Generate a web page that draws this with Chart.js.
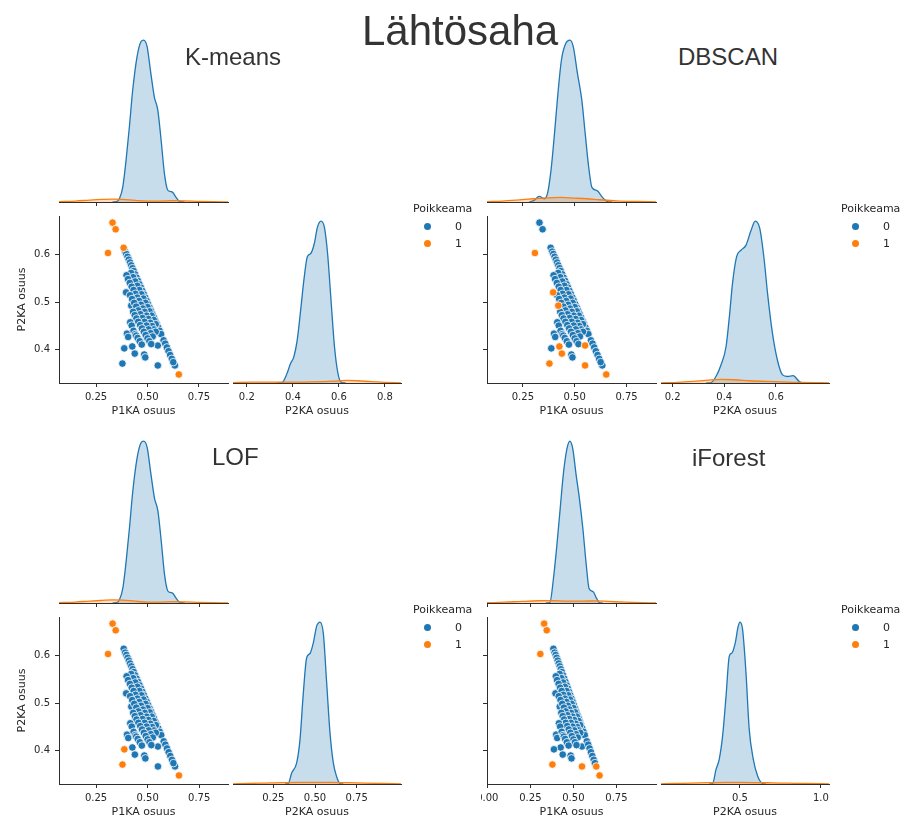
<!DOCTYPE html>
<html lang="fi">
<head>
<meta charset="utf-8">
<title>Lähtösaha – poikkeamat</title>
<script src="https://cdn.jsdelivr.net/npm/chart.js@4.4.1/dist/chart.umd.min.js"></script>
<style>
  html, body { margin: 0; padding: 0; background: #fff; }
  #page { position: relative; width: 904px; height: 824px; overflow: hidden; background: #fff; }
  .clip { position: absolute; overflow: hidden; }
  .inner { position: absolute; width: 480px; height: 430px; }
  canvas { position: absolute; display: block; }
  .heading { position: absolute; margin: 0; font-family: "Liberation Sans", Arial, sans-serif; font-weight: normal; color: #333; line-height: 1; white-space: nowrap; z-index: 5; }
  .legend { position: absolute; left: 0; top: 0; font-family: "DejaVu Sans", sans-serif; font-size: 11px; color: #262626; line-height: 1; }
  .legend .dot { position: absolute; width: 7px; height: 7px; border-radius: 50%; }
  .legend .txt { position: absolute; white-space: nowrap; }
</style>
</head>
<body>
<div id="page"></div>
<script>
// ---------------- data ----------------
const figureTitle = 'Lähtösaha';
const methodNames = ['K-means', 'DBSCAN', 'LOF', 'iForest'];
const xLabel = 'P1KA osuus';
const yLabel = 'P2KA osuus';
const legendTitle = 'Poikkeama';
const legendLabels = ['0', '1'];

// Share of P1KA and P2KA for each observation
const p1ka = [
  0.330, 0.345, 0.308, 0.384, 0.652, 0.396, 0.421, 0.426, 0.438, 0.378, 0.550, 0.550, 0.387, 0.633,
  0.391, 0.397, 0.403, 0.409, 0.415, 0.421, 0.427, 0.433, 0.440, 0.447, 0.454, 0.461, 0.468, 0.475,
  0.482, 0.489, 0.496, 0.503, 0.510, 0.517, 0.524, 0.531, 0.538, 0.545, 0.552, 0.559, 0.566, 0.578,
  0.586, 0.594, 0.602, 0.610, 0.618, 0.625,
  0.420, 0.430, 0.440, 0.450, 0.460, 0.470, 0.480, 0.490, 0.500, 0.510, 0.520, 0.530, 0.540,
  0.398, 0.405, 0.414, 0.423, 0.432, 0.441, 0.450, 0.459, 0.468, 0.477, 0.486, 0.495, 0.504, 0.513,
  0.522, 0.531, 0.540,
  0.415, 0.425, 0.435, 0.445, 0.455, 0.465, 0.475, 0.485, 0.495, 0.505, 0.515, 0.525,
  0.430, 0.438, 0.446, 0.455, 0.464, 0.473, 0.482, 0.491, 0.500, 0.509, 0.518,
  0.400, 0.406, 0.416, 0.423, 0.432, 0.440, 0.445, 0.452, 0.462, 0.472, 0.484, 0.489
];
const p2ka = [
  0.668, 0.654, 0.604, 0.615, 0.348, 0.521, 0.493, 0.407, 0.392, 0.371, 0.409, 0.367, 0.403, 0.367,
  0.607, 0.602, 0.596, 0.590, 0.584, 0.578, 0.572, 0.566, 0.559, 0.552, 0.545, 0.538, 0.531, 0.524,
  0.517, 0.510, 0.503, 0.496, 0.489, 0.482, 0.475, 0.468, 0.461, 0.454, 0.447, 0.440, 0.433, 0.420,
  0.413, 0.405, 0.397, 0.389, 0.381, 0.374,
  0.562, 0.553, 0.544, 0.535, 0.526, 0.517, 0.508, 0.499, 0.490, 0.481, 0.472, 0.463, 0.454,
  0.557, 0.549, 0.541, 0.533, 0.526, 0.518, 0.510, 0.503, 0.495, 0.487, 0.480, 0.472, 0.465, 0.457,
  0.450, 0.443, 0.438,
  0.515, 0.507, 0.499, 0.491, 0.483, 0.475, 0.467, 0.459, 0.451, 0.443, 0.435, 0.428,
  0.480, 0.473, 0.466, 0.459, 0.452, 0.445, 0.438, 0.431, 0.424, 0.418, 0.412,
  0.434, 0.427, 0.458, 0.451, 0.440, 0.433, 0.430, 0.425, 0.418, 0.411, 0.390, 0.384
];

// Indices of the observations each method flags as anomalies (Poikkeama = 1)
const kmeansOutliers = [0, 1, 2, 3, 4];
const dbscanOutliers = [2, 4, 5, 6, 7, 8, 9, 10, 11];
const lofOutliers = [0, 1, 2, 4, 9, 12];
const iforestOutliers = [0, 1, 2, 4, 9, 11, 13];

// Axis limits and ticks
const p1kaLimits = [[0.070, 0.891], [0.077, 0.892], [0.070, 0.890], [-0.002, 0.980]];
const p2kaLimits = [0.330, 0.682];
const p2kaKdeLimits = [[0.14, 0.87], [0.155, 0.806], [0.008, 1.016], [0.012, 1.05]];
const p1kaTicks = [[0.25, 0.5, 0.75], [0.25, 0.5, 0.75], [0.25, 0.5, 0.75], [0, 0.25, 0.5, 0.75]];
const p1kaTickLabels = [['0.25', '0.50', '0.75'], ['0.25', '0.50', '0.75'], ['0.25', '0.50', '0.75'], ['0.00', '0.25', '0.50', '0.75']];
const p2kaTicks = [0.4, 0.5, 0.6];
const p2kaTickLabels = ['0.4', '0.5', '0.6'];
const p2kaKdeTicks = [[0.2, 0.4, 0.6, 0.8], [0.2, 0.4, 0.6], [0.25, 0.5, 0.75], [0.5, 1.0]];
const p2kaKdeTickLabels = [['0.2', '0.4', '0.6', '0.8'], ['0.2', '0.4', '0.6'], ['0.25', '0.50', '0.75'], ['0.5', '1.0']];

// Kernel density curves [value, density] (density relative to the tallest inlier peak)
const kmeansP1Kde0 = [[0.33,0],[0.355,0.005],[0.363,0.02],[0.380,0.094],[0.396,0.26],[0.412,0.465],[0.428,0.69],[0.449,0.897],[0.468,0.99],[0.481,1.0],[0.498,0.96],[0.514,0.815],[0.533,0.65],[0.550,0.568],[0.566,0.383],[0.582,0.177],[0.598,0.074],[0.610,0.065],[0.622,0.06],[0.638,0.03],[0.654,0.005],[0.68,0]];
const kmeansP1Kde1 = [[0.07,0.002],[0.15,0.006],[0.22,0.012],[0.28,0.016],[0.33,0.018],[0.38,0.016],[0.44,0.01],[0.5,0.006],[0.56,0.006],[0.62,0.008],[0.68,0.007],[0.75,0.004],[0.82,0.002],[0.891,0.001]];
const kmeansP2Kde0 = [[0.33,0],[0.353,0.003],[0.375,0.06],[0.390,0.12],[0.404,0.16],[0.419,0.265],[0.434,0.45],[0.448,0.635],[0.463,0.78],[0.478,0.80],[0.493,0.86],[0.507,0.963],[0.522,1.0],[0.537,0.963],[0.551,0.80],[0.566,0.51],[0.581,0.224],[0.596,0.06],[0.61,0.005],[0.63,0]];
const kmeansP2Kde1 = [[0.14,0.002],[0.22,0.005],[0.3,0.006],[0.38,0.006],[0.45,0.006],[0.52,0.008],[0.58,0.012],[0.63,0.016],[0.68,0.014],[0.74,0.008],[0.8,0.004],[0.87,0.001]];

const dbscanP1Kde0 = [[0.28,0],[0.304,0.01],[0.329,0.035],[0.353,0.02],[0.37,0.06],[0.386,0.20],[0.403,0.43],[0.419,0.67],[0.436,0.877],[0.457,0.98],[0.477,1.0],[0.493,0.96],[0.513,0.796],[0.534,0.632],[0.55,0.43],[0.567,0.22],[0.583,0.09],[0.608,0.07],[0.633,0.03],[0.657,0.003],[0.68,0]];
const dbscanP1Kde1 = [[0.077,0.002],[0.15,0.006],[0.22,0.012],[0.3,0.02],[0.37,0.026],[0.43,0.028],[0.5,0.024],[0.56,0.02],[0.62,0.014],[0.7,0.007],[0.8,0.003],[0.892,0.001]];
const dbscanP2Kde0 = [[0.33,0],[0.349,0.003],[0.368,0.04],[0.387,0.11],[0.407,0.224],[0.42,0.41],[0.432,0.614],[0.448,0.78],[0.465,0.82],[0.484,0.85],[0.504,0.943],[0.52,1.0],[0.538,0.953],[0.555,0.758],[0.568,0.552],[0.587,0.306],[0.606,0.142],[0.626,0.05],[0.645,0.04],[0.667,0.045],[0.69,0.01],[0.703,0.001],[0.72,0]];
const dbscanP2Kde1 = [[0.155,0.001],[0.22,0.004],[0.28,0.01],[0.34,0.018],[0.39,0.022],[0.44,0.02],[0.5,0.014],[0.56,0.01],[0.62,0.007],[0.7,0.003],[0.806,0.001]];

const lofP1Kde0 = [[0.33,0],[0.355,0.005],[0.363,0.02],[0.380,0.094],[0.396,0.26],[0.412,0.465],[0.428,0.69],[0.449,0.897],[0.468,0.99],[0.481,1.0],[0.498,0.96],[0.514,0.815],[0.533,0.65],[0.550,0.568],[0.566,0.383],[0.582,0.177],[0.598,0.074],[0.610,0.065],[0.622,0.06],[0.638,0.03],[0.654,0.005],[0.68,0]];
const lofP1Kde1 = [[0.07,0.002],[0.15,0.006],[0.22,0.012],[0.28,0.016],[0.33,0.019],[0.38,0.018],[0.44,0.011],[0.5,0.006],[0.56,0.006],[0.62,0.008],[0.68,0.007],[0.75,0.004],[0.82,0.002],[0.89,0.001]];
const lofP2Kde0 = [[0.32,0],[0.34,0.003],[0.36,0.068],[0.39,0.13],[0.41,0.274],[0.43,0.563],[0.45,0.78],[0.47,0.806],[0.49,0.872],[0.51,0.975],[0.53,1.0],[0.55,0.93],[0.57,0.625],[0.59,0.316],[0.61,0.13],[0.63,0.045],[0.65,0.003],[0.67,0]];
const lofP2Kde1 = [[0.008,0.001],[0.1,0.003],[0.2,0.006],[0.3,0.009],[0.4,0.01],[0.5,0.01],[0.6,0.01],[0.7,0.008],[0.8,0.005],[0.9,0.003],[1.016,0.001]];

const iforestP1Kde0 = [[0.34,0],[0.364,0.005],[0.384,0.15],[0.404,0.356],[0.423,0.58],[0.443,0.81],[0.463,0.955],[0.479,1.0],[0.496,0.955],[0.516,0.79],[0.535,0.645],[0.555,0.46],[0.575,0.233],[0.591,0.09],[0.615,0.07],[0.634,0.03],[0.65,0.003],[0.67,0]];
const iforestP1Kde1 = [[-0.002,0.002],[0.1,0.005],[0.2,0.01],[0.3,0.014],[0.38,0.015],[0.46,0.012],[0.55,0.012],[0.63,0.013],[0.7,0.01],[0.8,0.005],[0.9,0.002],[0.98,0.001]];
const iforestP2Kde0 = [[0.31,0],[0.331,0.003],[0.352,0.09],[0.372,0.154],[0.393,0.30],[0.414,0.544],[0.434,0.79],[0.451,0.81],[0.471,0.873],[0.488,0.97],[0.5,1.0],[0.516,0.955],[0.537,0.688],[0.557,0.339],[0.582,0.154],[0.609,0.05],[0.64,0.003],[0.66,0]];
const iforestP2Kde1 = [[0.012,0.001],[0.1,0.003],[0.2,0.005],[0.3,0.008],[0.4,0.01],[0.5,0.01],[0.6,0.009],[0.7,0.007],[0.8,0.005],[0.9,0.003],[1.05,0.001]];

const outlierSets = [kmeansOutliers, dbscanOutliers, lofOutliers, iforestOutliers];
const p1Kdes = [[kmeansP1Kde0, kmeansP1Kde1], [dbscanP1Kde0, dbscanP1Kde1], [lofP1Kde0, lofP1Kde1], [iforestP1Kde0, iforestP1Kde1]];
const p2Kdes = [[kmeansP2Kde0, kmeansP2Kde1], [dbscanP2Kde0, dbscanP2Kde1], [lofP2Kde0, lofP2Kde1], [iforestP2Kde0, iforestP2Kde1]];

// ---------------- styling & layout ----------------
const BLUE = '#1f77b4', ORANGE = '#ff7f0e';
const BLUE_FILL = 'rgba(31,119,180,0.25)', ORANGE_FILL = 'rgba(255,127,14,0.25)';
const AXIS = '#2e2e2e', TEXT = '#262626';
const TICK_FONT = { family: 'DejaVu Sans', size: 10 };
const LABEL_FONT = { family: 'DejaVu Sans', size: 11 };

// each pair-plot block: clipping window on the page and shift of its contents
const blocks = [
  { left: 0,   top: 0,   width: 481, height: 420, shiftX: 0,   shiftY: 0,   titleLeft: 185, titleTop: 44.7 },
  { left: 481, top: 0,   width: 423, height: 420, shiftX: -53, shiftY: 0,   titleLeft: 678, titleTop: 44.7 },
  { left: 0,   top: 420, width: 481, height: 404, shiftX: 0,   shiftY: -19, titleLeft: 212, titleTop: 444.7 },
  { left: 481, top: 420, width: 423, height: 404, shiftX: -53, shiftY: -19, titleLeft: 692, titleTop: 445.7 }
];

Chart.defaults.font.family = 'DejaVu Sans';

const page = document.getElementById('page');

function addCanvas(parent, left, top, w, h) {
  const c = document.createElement('canvas');
  c.width = w; c.height = h;
  c.style.left = left + 'px'; c.style.top = top + 'px';
  c.style.width = w + 'px'; c.style.height = h + 'px';
  parent.appendChild(c);
  return c;
}

function axisX(limits, ticks, labels, o) {
  return {
    type: 'linear', position: 'bottom', min: limits[0], max: limits[1], bounds: 'data',
    afterBuildTicks: s => { s.ticks = ticks.map(v => ({ value: v })); },
    afterFit: s => { s.height = o.height; },
    grid: { display: true, drawOnChartArea: false, drawTicks: true, tickLength: 4, color: AXIS, lineWidth: 1 },
    border: { display: true, color: AXIS, width: 1 },
    ticks: { display: o.labels, autoSkip: false, maxRotation: 0, minRotation: 0, padding: 4, font: TICK_FONT, color: TEXT,
             callback: (v, i) => labels[i] },
    title: { display: !!o.title, text: o.title || '', font: LABEL_FONT, color: TEXT, padding: { top: 0, bottom: 7.4 } }
  };
}

const baseOptions = () => ({
  responsive: false, animation: false, events: [],
  plugins: { legend: { display: false }, tooltip: { enabled: false } }
});

function scatterChart(canvas, k) {
  const inl = [], out = [];
  p1ka.forEach((x, i) => (outlierSets[k].includes(i) ? out : inl).push({ x, y: p2ka[i] }));
  const opts = baseOptions();
  opts.layout = { padding: { left: 0, top: 8, right: 12, bottom: 0 } };
  opts.scales = {
    x: axisX(p1kaLimits[k], p1kaTicks[k], p1kaTickLabels[k], { height: 42, labels: true, title: xLabel }),
    y: {
      type: 'linear', position: 'left', min: p2kaLimits[0], max: p2kaLimits[1], bounds: 'data',
      afterBuildTicks: s => { s.ticks = p2kaTicks.map(v => ({ value: v })); },
      afterFit: s => { s.width = 59; },
      grid: { display: true, drawOnChartArea: false, drawTicks: true, tickLength: 4, color: AXIS, lineWidth: 1 },
      border: { display: true, color: AXIS, width: 1 },
      ticks: { autoSkip: false, padding: 5, font: TICK_FONT, color: TEXT, callback: (v, i) => p2kaTickLabels[i] },
      title: { display: true, text: yLabel, font: LABEL_FONT, color: TEXT, padding: { top: 15.4, bottom: 0 } }
    }
  };
  new Chart(canvas, {
    type: 'scatter',
    data: { datasets: [
      { label: legendLabels[0], data: inl, backgroundColor: BLUE, borderColor: '#ffffff', borderWidth: 0.8, pointRadius: 3.8, order: 1 },
      { label: legendLabels[1], data: out, backgroundColor: ORANGE, borderColor: '#ffffff', borderWidth: 0.8, pointRadius: 3.8, order: 0 }
    ] },
    options: opts
  });
}

function kdeChart(canvas, curves, limits, ticks, labels, pad, axisOpts) {
  const opts = baseOptions();
  opts.layout = { padding: pad };
  opts.scales = {
    x: axisX(limits, ticks, labels, axisOpts),
    y: { type: 'linear', display: false, min: 0, max: 1.05 }
  };
  const line = (pts, stroke, fillCol, order) => ({
    data: pts.map(p => ({ x: p[0], y: p[1] })),
    borderColor: stroke, backgroundColor: fillCol, fill: 'origin', borderWidth: 1.3,
    pointRadius: 0, cubicInterpolationMode: 'monotone', order
  });
  new Chart(canvas, {
    type: 'line',
    data: { datasets: [ line(curves[0], BLUE, BLUE_FILL, 1), line(curves[1], ORANGE, ORANGE_FILL, 0) ] },
    options: opts
  });
}

function legend(parent) {
  const box = document.createElement('div');
  box.className = 'legend';
  const t = document.createElement('div');
  t.className = 'txt'; t.textContent = legendTitle;
  t.style.left = '413px'; t.style.top = '203px';
  box.appendChild(t);
  [BLUE, ORANGE].forEach((col, i) => {
    const d = document.createElement('div');
    d.className = 'dot'; d.style.background = col;
    d.style.left = '423.5px'; d.style.top = (222.5 + 17 * i) + 'px';
    box.appendChild(d);
    const l = document.createElement('div');
    l.className = 'txt'; l.textContent = legendLabels[i];
    l.style.left = '455px'; l.style.top = (220.5 + 17 * i) + 'px';
    box.appendChild(l);
  });
  parent.appendChild(box);
}

blocks.forEach((b, k) => {
  const clip = document.createElement('div');
  clip.className = 'clip';
  clip.style.left = b.left + 'px'; clip.style.top = b.top + 'px';
  clip.style.width = b.width + 'px'; clip.style.height = b.height + 'px';
  page.appendChild(clip);
  const inner = document.createElement('div');
  inner.className = 'inner';
  inner.style.left = b.shiftX + 'px';
  inner.style.top = b.shiftY + 'px';
  clip.appendChild(inner);

  // diagonal: P1KA density (top), P2KA density (right); off-diagonal: scatter
  kdeChart(addCanvas(inner, 0, 20, 240, 192), p1Kdes[k], p1kaLimits[k], p1kaTicks[k], p1kaTickLabels[k],
           { left: 59, top: 12, right: 12, bottom: 0 }, { height: 10, labels: false });
  scatterChart(addCanvas(inner, 0, 205, 240, 220), k);
  kdeChart(addCanvas(inner, 220, 205, 200, 220), p2Kdes[k], p2kaKdeLimits[k], p2kaKdeTicks[k], p2kaKdeTickLabels[k],
           { left: 13, top: 8, right: 19, bottom: 0 }, { height: 42, labels: true, title: yLabel });
  legend(inner);

  const h = document.createElement('div');
  h.className = 'heading'; h.textContent = methodNames[k];
  h.style.fontSize = '24px'; h.style.left = b.titleLeft + 'px'; h.style.top = b.titleTop + 'px';
  page.appendChild(h);
});

const main = document.createElement('div');
main.className = 'heading'; main.textContent = figureTitle;
main.style.fontSize = '42px'; main.style.left = '362px'; main.style.top = '9.5px';
page.appendChild(main);
</script>
</body>
</html>
